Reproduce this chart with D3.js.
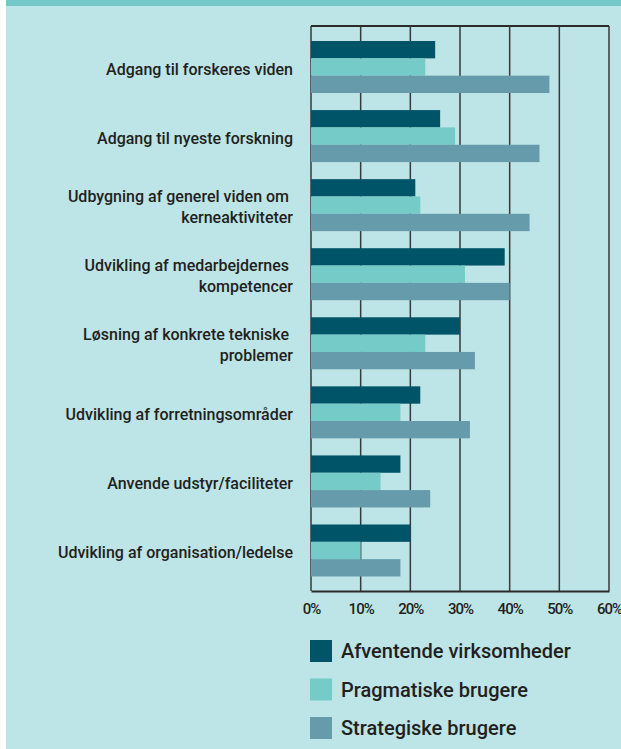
<!DOCTYPE html>
<html>
<head>
<meta charset="utf-8">
<script src="https://cdnjs.cloudflare.com/ajax/libs/d3/7.8.5/d3.min.js"></script>
<style>
  body { margin: 0; background: #fff; }
  svg { display: block; }
  text { font-family: Roboto, "DejaVu Sans", sans-serif; fill: #231f20; }
</style>
</head>
<body>
<div id="chart"></div>
<script>
const w = 621;
const h = 749;

// data (percent)
const categories = [
  'Adgang til forskeres viden',
  'Adgang til nyeste forskning',
  'Udbygning af generel viden om |kerneaktiviteter',
  'Udvikling af medarbejdernes |kompetencer',
  'Løsning af konkrete tekniske |problemer',
  'Udvikling af forretningsområder',
  'Anvende udstyr/faciliteter',
  'Udvikling af organisation/ledelse'
];
const seriesNames = ['Afventende virksomheder', 'Pragmatiske brugere', 'Strategiske brugere'];
const afventende = [25, 26, 21, 39, 30, 22, 18, 20];
const pragmatiske = [23, 29, 22, 31, 23, 18, 14, 10];
const strategiske = [48, 46, 44, 40, 33, 32, 24, 18];
const ticks = [0, 10, 20, 30, 40, 50, 60];
const colors = ['#005468', '#74cbc8', '#669bab'];

const seriesValues = [afventende, pragmatiske, strategiske];

const svg = d3.select('#chart')
  .append('svg')
  .attr('width', w)
  .attr('height', h);

// panel background + top band
svg.append('rect').attr('x', 6).attr('y', 0).attr('width', w - 6).attr('height', h).attr('fill', '#bde4e6');
svg.append('rect').attr('x', 6).attr('y', 0).attr('width', w - 6).attr('height', 6).attr('fill', '#74c9c8');

const plotTop = 26;
const plotBottom = 591;

const xScale = d3.scaleLinear()
  .domain([0, 60])
  .range([311, 609]);

const yScale = d3.scaleBand()
  .domain(categories)
  .range([41, 576.5])
  .paddingInner(0.247)
  .paddingOuter(0);

const inner = d3.scaleBand()
  .domain(seriesNames)
  .range([0, yScale.bandwidth()]);

// gridlines
svg.append('g')
  .selectAll('line')
  .data(ticks)
  .enter()
  .append('line')
  .attr('x1', d => xScale(d))
  .attr('x2', d => xScale(d))
  .attr('y1', plotTop)
  .attr('y2', plotBottom)
  .attr('stroke', '#3a3a3a')
  .attr('stroke-width', 1.5);

// bars
const groups = svg.append('g')
  .selectAll('g')
  .data(categories)
  .enter()
  .append('g')
  .attr('transform', d => 'translate(0,' + yScale(d) + ')');

groups.selectAll('rect')
  .data((d, i) => seriesNames.map((s, j) => ({ s: s, v: seriesValues[j][i], j: j })))
  .enter()
  .append('rect')
  .attr('x', xScale(0))
  .attr('y', d => inner(d.s))
  .attr('width', d => xScale(d.v) - xScale(0))
  .attr('height', inner.bandwidth())
  .attr('fill', d => colors[d.j]);

// frame top
svg.append('line')
  .attr('x1', xScale(0)).attr('x2', xScale(60))
  .attr('y1', plotTop).attr('y2', plotTop)
  .attr('stroke', '#2b2b2b').attr('stroke-width', 2);

const xAxis = d3.axisBottom(xScale)
  .tickValues(ticks)
  .tickSize(0)
  .tickPadding(12)
  .tickFormat(d => d + '%');

const gx = svg.append('g')
  .attr('transform', 'translate(0,' + plotBottom + ')')
  .call(xAxis);
gx.select('.domain').attr('stroke', '#2b2b2b').attr('stroke-width', 2);
gx.selectAll('text')
  .style('font-family', 'Roboto, sans-serif')
  .style('font-size', '15px')
  .style('font-weight', '500')
  .style('letter-spacing', '-1px')
  .attr('fill', '#231f20');

// category labels
const labels = svg.append('g')
  .selectAll('text')
  .data(categories)
  .enter()
  .append('text')
  .attr('text-anchor', 'end')
  .style('font-size', '16px')
  .style('font-weight', '500');

labels.each(function(d) {
  const lines = d.split('|');
  const cy = yScale(d) + yScale.bandwidth() / 2;
  const t = d3.select(this);
  lines.forEach((line, i) => {
    t.append('tspan')
      .attr('x', 293)
      .attr('y', cy + 7.5 + (i - (lines.length - 1) / 2) * 21.3)
      .text(line);
  });
});

// legend
const legend = svg.append('g')
  .selectAll('g')
  .data(seriesNames)
  .enter()
  .append('g')
  .attr('transform', (d, i) => 'translate(310,' + (640 + i * 38.5) + ')');

legend.append('rect')
  .attr('width', 22)
  .attr('height', 22)
  .attr('fill', (d, i) => colors[i]);

legend.append('text')
  .attr('x', 31)
  .attr('y', 18)
  .style('font-size', '20px')
  .style('font-weight', '500')
  .text(d => d);
</script>
</body>
</html>
